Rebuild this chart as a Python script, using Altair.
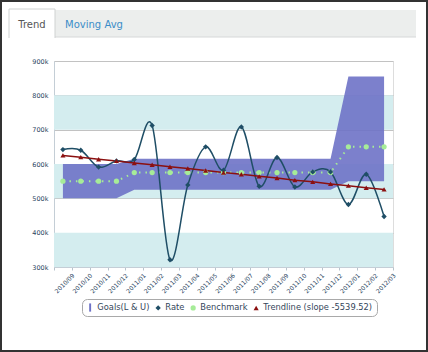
import altair as alt
import pandas as pd

months = ["2010/09", "2010/10", "2010/11", "2010/12", "2011/01", "2011/02", "2011/03",
          "2011/04", "2011/05", "2011/06", "2011/07", "2011/08", "2011/09", "2011/10",
          "2011/11", "2011/12", "2012/01", "2012/02", "2012/03"]
# values in thousands
rate = [642, 640, 591, 609, 613, 712, 321, 539, 650, 582, 708, 535, 619, 533, 577, 577, 482, 570, 447]
benchmark = [550, 550, 550, 550, 575, 575, 575, 575, 575, 575, 575, 575, 575, 575, 575, 575, 650, 650, 650]
trend = [625, 620, 614, 609, 603, 598, 592, 587, 581, 575, 570, 564, 559, 553, 548, 542, 537, 531, 526]
goal_lower = [500, 500, 500, 500, 525, 525, 525, 525, 525, 525, 525, 525, 525, 525, 525, 525, 550, 550, 550]
goal_upper = [600, 600, 600, 600, 615, 615, 615, 615, 615, 615, 615, 615, 615, 615, 615, 615, 855, 855, 855]
y_ticks = [300, 400, 500, 600, 700, 800, 900]
band_lo = [300, 500, 700]
band_hi = [400, 600, 800]

series_names = ["Goals(L & U)", "Rate", "Benchmark", "Trendline (slope -5539.52)"]
series_colors = ["#6e72c6", "#1f4e66", "#a6ec98", "#8b1010"]
bar_path = "M-0.35,-1.5H0.35V1.5H-0.35Z"
series_shapes = [bar_path, "diamond", "circle", "triangle-up"]
series_sizes = [30, 26, 40, 36]

W, H = 339, 206
FONT = "DejaVu Sans"
LABEL = "#2a4560"

wide = pd.DataFrame({"month": months, "rate": rate, "benchmark": benchmark, "trend": trend,
                     "lower": goal_lower, "upper": goal_upper})
long = pd.concat([
    pd.DataFrame({"month": months, "value": benchmark, "series": "Benchmark"}),
    pd.DataFrame({"month": months, "value": rate, "series": "Rate"}),
    pd.DataFrame({"month": months, "value": trend, "series": "Trendline (slope -5539.52)"}),
], ignore_index=True)
bands = pd.DataFrame({"lo": band_lo, "hi": band_hi})
one = pd.DataFrame({"a": [0]})

xscale = alt.Scale(domain=months, type="band", paddingInner=0, paddingOuter=0)
yscale = alt.Scale(domain=[300, 900], nice=False, zero=False)

x_axis = alt.Axis(title=None, labelAngle=-45, labelFontSize=6, labelColor=LABEL, labelFont=FONT,
                  tickBand="extent", tickColor="#b8c4cc", tickSize=3, domainColor="#c4ced6",
                  labelOffset=8, labelPadding=2, grid=False, labelOverlap=False)
y_axis = alt.Axis(title=None, values=y_ticks, labelExpr="datum.value + 'k'", labelFontSize=6.5,
                  labelColor=LABEL, labelFont=FONT, ticks=False, labelPadding=6,
                  domainColor="#c4ced6", gridColor="#c2c2c2", gridWidth=1, grid=True,
                  labelOverlap=False, labelBound=False, labelFlush=False)

X = alt.X("month:O", scale=xscale, axis=x_axis)


def Y(field):
    return alt.Y(field, scale=yscale, axis=y_axis)


band_layer = alt.Chart(bands).mark_rect(color="#d4edef").encode(
    x=alt.value(0), x2=alt.value(W), y=Y("lo:Q"), y2="hi:Q")

area = alt.Chart(wide).mark_area(color="#6e72c6", opacity=0.9).encode(
    x=X, y=Y("lower:Q"), y2="upper:Q")

bench_line = alt.Chart(wide).mark_line(color="#a6ec98", strokeWidth=2, strokeDash=[1.5, 5]).encode(
    x=X, y=Y("benchmark:Q"))
rate_line = alt.Chart(wide).mark_line(color="#1f4e66", strokeWidth=1.5, interpolate="cardinal").encode(
    x=X, y=Y("rate:Q"))
trend_line = alt.Chart(wide).mark_line(color="#8b1010", strokeWidth=1.5).encode(
    x=X, y=Y("trend:Q"))

leg = alt.Legend(title=None, orient="none", legendX=28, legendY=238, direction="horizontal",
                 columns=4, strokeColor="#a9a9a9", cornerRadius=5, padding=4, fillColor="white",
                 labelFontSize=8.3, labelColor="#34465a", labelFont=FONT, symbolSize=30,
                 columnPadding=4, labelOffset=3, symbolOpacity=1, symbolStrokeWidth=0)
points = alt.Chart(long).mark_point(filled=True, opacity=1).encode(
    x=X, y=Y("value:Q"),
    color=alt.Color("series:N", scale=alt.Scale(domain=series_names, range=series_colors), legend=leg),
    shape=alt.Shape("series:N", scale=alt.Scale(domain=series_names, range=series_shapes), legend=leg),
    size=alt.Size("series:N", scale=alt.Scale(domain=series_names, range=series_sizes), legend=None),
)

# decoration: tabs and outer frame (pixel offsets relative to the plot origin)
tab_bar = alt.Chart(one).mark_rect(fill="#eceeed").encode(
    x=alt.value(-44), x2=alt.value(362), y=alt.value(-51), y2=alt.value(-24))
tab_bar_line = alt.Chart(one).mark_rule(color="#d6d8d8").encode(
    x=alt.value(-44), x2=alt.value(362), y=alt.value(-24))
tab = alt.Chart(one).mark_rect(fill="white").encode(
    x=alt.value(-45), x2=alt.value(1), y=alt.value(-52), y2=alt.value(-23))
tab_l = alt.Chart(one).mark_rule(color="#cfd2d2").encode(
    x=alt.value(-45), y=alt.value(-52), y2=alt.value(-23))
tab_r = alt.Chart(one).mark_rule(color="#cfd2d2").encode(
    x=alt.value(1), y=alt.value(-52), y2=alt.value(-23))
tab_t = alt.Chart(one).mark_rule(color="#cfd2d2").encode(
    x=alt.value(-45), x2=alt.value(1), y=alt.value(-52))
tab_text = alt.Chart(one).mark_text(fontSize=10, color="#555555", font=FONT, align="center",
                                    baseline="alphabetic").encode(
    x=alt.value(-22), y=alt.value(-33), text=alt.value("Trend"))
tab_text2 = alt.Chart(one).mark_text(fontSize=10, color="#3b8dc8", font=FONT, align="center",
                                     baseline="alphabetic").encode(
    x=alt.value(40), y=alt.value(-33), text=alt.value("Moving Avg"))
frame = alt.Chart(one).mark_rect(fill=None, stroke="#333333", strokeWidth=2).encode(
    x=alt.value(-53), x2=alt.value(373), y=alt.value(-60), y2=alt.value(290))

chart = alt.layer(
    band_layer, area, bench_line, rate_line, trend_line, points,
    tab_bar, tab_bar_line, tab, tab_l, tab_r, tab_t, tab_text, tab_text2, frame
).resolve_scale(x="shared", y="shared").properties(
    width=W, height=H,
    autosize=alt.AutoSizeParams(type="none"),
    padding={"left": 54, "top": 61, "right": 35, "bottom": 85},
    background="white",
).configure_view(strokeWidth=0).configure(font=FONT)

chart.save("out.html", embed_options={"renderer": "svg", "actions": False})
